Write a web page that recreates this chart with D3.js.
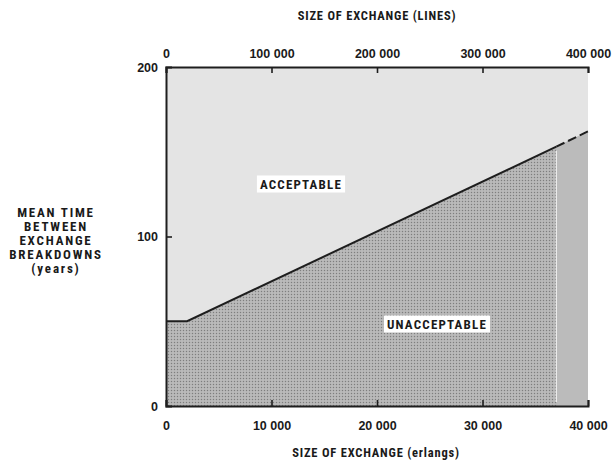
<!DOCTYPE html>
<html>
<head>
<meta charset="utf-8">
<script src="https://cdn.jsdelivr.net/npm/d3@7"></script>
<style>
  html, body { margin: 0; padding: 0; background: #fff; }
  svg { display: block; }
  text { font-family: "Liberation Sans Narrow", "Roboto Condensed", "DejaVu Sans Condensed", "Liberation Sans", sans-serif; fill: #1a1a1a; }
</style>
</head>
<body>
<script>
// Boundary between acceptable and unacceptable reliability
const solidErlangs = [0, 2000, 37000];
const solidYears   = [50, 50, 153];
const dashErlangs  = [37000, 40000];
const dashYears    = [153, 162];

const bottomTicks = [0, 10000, 20000, 30000, 40000];
const bottomTickLabels = ["0", "10 000", "20 000", "30 000", "40 000"];
const topTicks = [0, 100000, 200000, 300000, 400000];
const topTickLabels = ["0", "100 000", "200 000", "300 000", "400 000"];
const yTicks = [0, 100, 200];
const yTickLabels = ["0", "100", "200"];
const yTitleLines = ["MEAN TIME", "BETWEEN", "EXCHANGE", "BREAKDOWNS", "(years)"];

const W = 616, H = 464;
const svg = d3.select("body").append("svg").attr("width", W).attr("height", H);

const x = d3.scaleLinear().domain([0, 40000]).range([166, 588]);
const xLines = d3.scaleLinear().domain([0, 400000]).range([166, 588]);
const y = d3.scaleLinear().domain([0, 200]).range([406, 67]);

// dotted screen for the unacceptable zone
const defs = svg.append("defs");
const pat = defs.append("pattern").attr("id", "dots")
  .attr("width", 3).attr("height", 3).attr("patternUnits", "userSpaceOnUse");
pat.append("rect").attr("width", 3).attr("height", 3).attr("fill", "#b2b2b2");
pat.append("rect").attr("x", 0).attr("y", 0).attr("width", 1).attr("height", 1).attr("fill", "#7e7e7e");
pat.append("rect").attr("x", 1.5).attr("y", 1.5).attr("width", 1).attr("height", 1).attr("fill", "#d4d4d4");

// acceptable zone (whole plot background)
svg.append("rect")
  .attr("x", x(0)).attr("y", y(200))
  .attr("width", x(40000) - x(0)).attr("height", y(0) - y(200))
  .attr("fill", "#e4e4e4");

const allE = solidErlangs.concat(dashErlangs.slice(1));
const allY = solidYears.concat(dashYears.slice(1));
const pts = allE.map((e, i) => [e, allY[i]]);

const area = d3.area().x(d => x(d[0])).y0(y(0)).y1(d => y(d[1]));
svg.append("path").datum(pts).attr("d", area).attr("fill", "url(#dots)");

// extrapolated section shaded flat
const extPts = dashErlangs.map((e, i) => [e, dashYears[i]]);
svg.append("path").datum(extPts).attr("d", area).attr("fill", "#bbbbbb");
svg.append("line")
  .attr("x1", x(37000)).attr("x2", x(37000))
  .attr("y1", y(153) + 4).attr("y2", y(0) - 4)
  .attr("stroke", "#eeeeee").attr("stroke-width", 1.2);

const line = d3.line().x(d => x(d[0])).y(d => y(d[1]));
svg.append("path").datum(solidErlangs.map((e, i) => [e, solidYears[i]]))
  .attr("d", line).attr("fill", "none").attr("stroke", "#1e1e1e").attr("stroke-width", 2);
svg.append("path").datum(extPts)
  .attr("d", line).attr("fill", "none").attr("stroke", "#1e1e1e").attr("stroke-width", 2)
  .attr("stroke-dasharray", "9,4");

// axes
const bottomAxis = d3.axisBottom(x).tickValues(bottomTicks)
  .tickFormat((d, i) => bottomTickLabels[i]).tickSize(-6).tickPadding(15);
const gB = svg.append("g").attr("transform", `translate(0,${y(0)})`).call(bottomAxis);

const topAxis = d3.axisTop(xLines).tickValues(topTicks)
  .tickFormat((d, i) => topTickLabels[i]).tickSize(-6).tickPadding(9);
const gT = svg.append("g").attr("transform", `translate(0,${y(200)})`).call(topAxis);

const leftAxis = d3.axisLeft(y).tickValues(yTicks)
  .tickFormat((d, i) => yTickLabels[i]).tickSize(-6).tickPadding(8);
const gL = svg.append("g").attr("transform", `translate(${x(0)},0)`).call(leftAxis);

[gB, gT, gL].forEach(g => {
  g.select(".domain").attr("stroke", "#1e1e1e").attr("stroke-width", 2);
  g.selectAll(".tick line").attr("stroke", "#1e1e1e").attr("stroke-width", 1.6);
  g.selectAll(".tick text").attr("font-size", 12.5).attr("font-weight", "bold")
    .style("font-family", '"Liberation Sans Narrow", "Liberation Sans", sans-serif').attr("fill", "#1a1a1a");
});
gL.selectAll(".tick").filter(d => d === 0 || d === 200).select("line").remove();

// titles
svg.append("text").attr("x", 377).attr("y", 20).attr("text-anchor", "middle")
  .attr("font-size", 12.5).attr("font-weight", "bold").attr("letter-spacing", 0.8)
  .text("SIZE OF EXCHANGE (LINES)");
svg.append("text").attr("x", 376).attr("y", 457).attr("text-anchor", "middle")
  .attr("font-size", 12.5).attr("font-weight", "bold").attr("letter-spacing", 0.8)
  .text("SIZE OF EXCHANGE (erlangs)");

const yt = svg.append("text").attr("text-anchor", "middle")
  .attr("font-size", 13).attr("font-weight", "bold").attr("letter-spacing", 1.8);
yTitleLines.forEach((t, i) => {
  yt.append("tspan").attr("x", 56).attr("y", 217 + i * 14).text(t);
});

// region labels with white backing
function boxedLabel(cx, cy, txt) {
  const g = svg.append("g");
  const t = g.append("text").attr("x", cx).attr("y", cy).attr("text-anchor", "middle")
    .attr("dominant-baseline", "central").attr("font-size", 13).attr("font-weight", "bold")
    .attr("letter-spacing", 1.2).text(txt);
  const bb = t.node().getBBox();
  g.insert("rect", "text").attr("x", bb.x - 3).attr("y", bb.y - 1)
    .attr("width", bb.width + 6).attr("height", bb.height + 2).attr("fill", "#fff");
}
boxedLabel(301, 184, "ACCEPTABLE");
boxedLabel(437, 324, "UNACCEPTABLE");
</script>
</body>
</html>
